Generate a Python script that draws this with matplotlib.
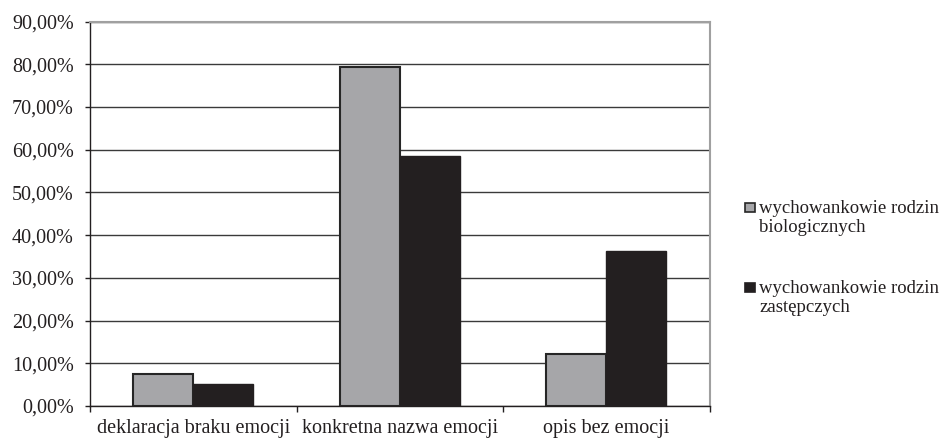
import matplotlib
matplotlib.use("Agg")
import matplotlib.pyplot as plt
from matplotlib.ticker import FuncFormatter, FixedLocator
from matplotlib.patches import Rectangle
import numpy as np

categories = ["deklaracja braku emocji", "konkretna nazwa emocji", "opis bez emocji"]
series_names = ["wychowankowie rodzin\nbiologicznych", "wychowankowie rodzin\nzastępczych"]
biologiczne = [7.6, 79.4, 12.2]
zastepcze = [5.1, 58.5, 36.2]

plt.rcParams['font.family'] = ['Liberation Serif', 'DejaVu Serif']
TXT = '#231f20'

fig = plt.figure(figsize=(9.41, 4.38), dpi=100)
ax = fig.add_axes([90/941, 1-406/438, (709.5-90)/941, (406-21.5)/438])

x = np.arange(len(categories))
w = 0.29
colors = ['#a6a6a9', '#231f20']
edges = ['#262626', '#231f20']
ax.bar(x - w/2, biologiczne, w, color=colors[0], edgecolor=edges[0], linewidth=1.5, zorder=3)
ax.bar(x + w/2, zastepcze, w, color=colors[1], edgecolor=edges[1], linewidth=1.0, zorder=3)

ax.set_xlim(-0.5, len(categories) - 0.5)
ax.set_ylim(0, 90)
ax.set_yticks(np.arange(0, 91, 10))
ax.yaxis.set_major_formatter(FuncFormatter(lambda v, p: f"{v:.2f}%".replace('.', ',')))
ax.yaxis.grid(True, color='#3a3a3a', linewidth=1.0, zorder=0)
ax.set_axisbelow(True)

ax.set_xticks(x)
ax.set_xticklabels(categories)
ax.tick_params(axis='x', which='major', length=0, labelsize=14.5, pad=9, colors=TXT)
ax.xaxis.set_minor_locator(FixedLocator(np.arange(-0.5, len(categories), 1.0)))
ax.tick_params(axis='x', which='minor', length=4.5, width=1, color=TXT)
ax.tick_params(axis='y', length=3.6, width=1, labelsize=14.5, pad=8, colors=TXT)

for s in ['left', 'bottom']:
    ax.spines[s].set_color(TXT)
    ax.spines[s].set_linewidth(1.0)
for s in ['top', 'right']:
    ax.spines[s].set_color('#a0a0a0')
    ax.spines[s].set_linewidth(1.5)

# legend (manual, handle aligned with first text line as in the reference)
W, H = 941, 438
entry_base = [213, 293]
line_gap = 19.5
for name, c, ec, yb in zip(series_names, colors, edges, entry_base):
    fig.add_artist(Rectangle((745/W, 1-(yb-1)/H), 9.5/W, 9.5/H, transform=fig.transFigure,
                             facecolor=c, edgecolor=ec, linewidth=1.2))
    for k, line in enumerate(name.split('\n')):
        fig.text(759/W, 1-(yb + k*line_gap)/H, line, fontsize=13.5, color=TXT,
                 va='baseline', ha='left')

fig.savefig("out.png", dpi=100)
